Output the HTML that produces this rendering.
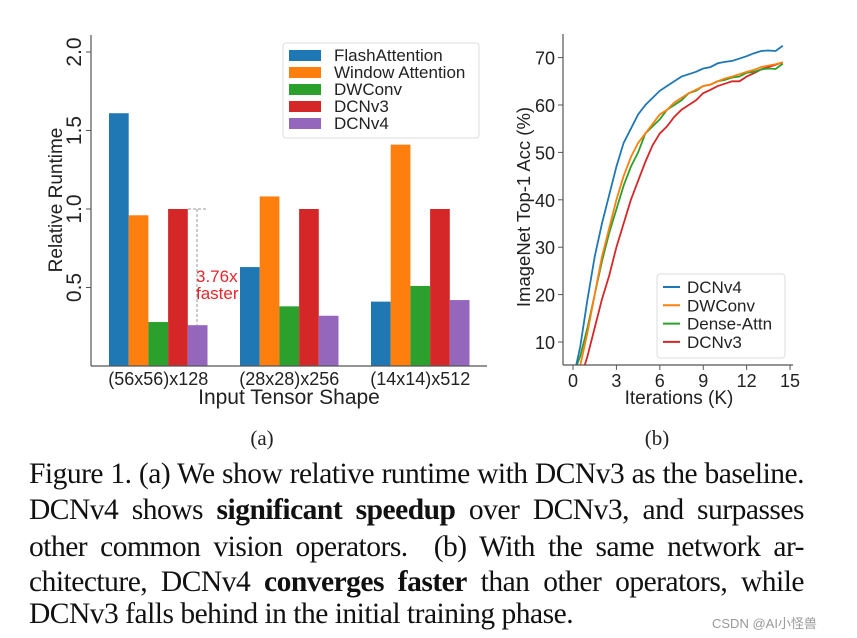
<!DOCTYPE html>
<html><head><meta charset="utf-8"><style>
body{margin:0;background:#fff;width:857px;height:638px;overflow:hidden;position:relative;font-family:"Liberation Sans","DejaVu Sans",sans-serif}
svg{position:absolute;left:0;top:0}
.cap{position:absolute;left:29px;width:775px;font-family:"Liberation Serif",serif;font-size:29.5px;color:#111;text-align:justify;text-align-last:justify;white-space:nowrap;line-height:30px;letter-spacing:-0.5px}
</style></head><body>
<svg id="chart" width="857" height="460"></svg>
<div class="cap" style="top:459px">Figure 1. (a) We show relative runtime with DCNv3 as the baseline.</div>
<div class="cap" style="top:495px">DCNv4 shows <b>significant speedup</b> over DCNv3, and surpasses</div>
<div class="cap" style="top:532px">other common vision operators.&nbsp; (b) With the same network ar-</div>
<div class="cap" style="top:567px">chitecture, DCNv4 <b>converges faster</b> than other operators, while</div>
<div class="cap" style="top:599px;width:auto;text-align-last:auto">DCNv3 falls behind in the initial training phase.</div>
<div style="position:absolute;left:712px;top:613px;font-size:13px;color:#999;font-family:'Liberation Sans','Noto Sans CJK SC',sans-serif">CSDN @AI小怪兽</div>
<script>
const categories=["(56x56)x128","(28x28)x256","(14x14)x512"];
const seriesNames=["FlashAttention","Window Attention","DWConv","DCNv3","DCNv4"];
const flashVals=[1.61,0.63,0.41];
const windowVals=[0.96,1.08,1.41];
const dwconvVals=[0.28,0.38,0.51];
const dcnv3Vals=[1.0,1.0,1.0];
const dcnv4Vals=[0.26,0.32,0.42];
const yTicksA=[0.5,1.0,1.5,2.0];
const lineNames=["DCNv4","DWConv","Dense-Attn","DCNv3"];
const itersK=[0,0.5,1,1.5,2,2.5,3,3.5,4,4.5,5,5.5,6,6.5,7,7.5,8,8.5,9,9.5,10,10.5,11,11.5,12,12.5,13,13.5,14,14.5];
const accDCNv4=[2,9,19,28,35,41,47,52,55,58,60,61.5,63,64,65,66,66.5,67,67.7,68,68.8,69.1,69.3,69.8,70.3,70.9,71.4,71.5,71.4,72.5];
const accDWConv=[0,5,12,20,28,34,40,45,49,52,54,56,58,59,60.5,61.5,62.5,63.2,64,64.3,65,65.6,66,66.5,67,67.4,68,68.3,68.6,69];
const accDense=[3,7,13,20,27,33,38,43,47,50,54,55.5,57,59,60,61,62.5,63,64,64.3,65,65.3,65.8,66,66.8,67,67.5,67.7,67.6,68.7];
const accDCNv3=[0,2,7,13,19,24,30,35,40,44,48,51.5,54,55.5,57.5,59,60,61,62.5,63.2,64,64.5,65,65,66,66.7,67.5,68,68.5,69];
const xTicksB=[0,3,6,9,12,15];
const yTicksB=[10,20,30,40,50,60,70];

const NS="http://www.w3.org/2000/svg";
const svg=document.getElementById('chart');
function mk(t,a,txt){const e=document.createElementNS(NS,t);for(const k in a)e.setAttribute(k,a[k]);if(txt!==undefined)e.textContent=txt;svg.appendChild(e);return e;}
const colors=["#1f77b4","#ff7f0e","#2ca02c","#d62728","#9467bd"];
// chart A
const yA=v=>366-157*v;
const gx=i=>109+131*i;const bw=19.7;
const allVals=[flashVals,windowVals,dwconvVals,dcnv3Vals,dcnv4Vals];
allVals.forEach((arr,s)=>arr.forEach((v,i)=>{
 const r=mk('rect',{x:gx(i)+s*bw,y:yA(v),width:bw,height:366-yA(v),fill:colors[s]});
 
 
}));
let e=mk('line',{x1:91,y1:35,x2:91,y2:366,stroke:'#555','stroke-width':1.2});
e=mk('line',{x1:91,y1:366,x2:487,y2:366,stroke:'#555','stroke-width':1.2});
yTicksA.forEach(t=>{const y=yA(t);mk('line',{x1:86,y1:y,x2:91,y2:y,stroke:'#555'});
 const tx=mk('text',{x:81,y:y,'font-size':21,'text-anchor':'middle',fill:'#222',transform:`rotate(-90 81 ${y})`},t.toFixed(1));
 });
categories.forEach((c,i)=>{const cx=gx(i)+2.5*bw;
 const t=mk('text',{x:cx,y:385,'font-size':18,'text-anchor':'middle',fill:'#222'},c);
 });
e=mk('text',{x:289,y:404,'font-size':21,'text-anchor':'middle',fill:'#222'},'Input Tensor Shape');
e=mk('text',{x:62,y:200,'font-size':19,'text-anchor':'middle',fill:'#222',transform:'rotate(-90 62 200)'},'Relative Runtime');
mk('line',{x1:188,y1:yA(1),x2:206,y2:yA(1),stroke:'#999','stroke-dasharray':'3,2'});
mk('line',{x1:197,y1:yA(1),x2:197,y2:yA(dcnv4Vals[0]),stroke:'#999','stroke-dasharray':'3,2'});
e=mk('text',{x:196,y:282,'font-size':17,fill:'#e8262b'},'3.76x');
mk('text',{x:196,y:299,'font-size':17,fill:'#e8262b'},'faster');
e=mk('rect',{x:283,y:43,width:196,height:95,rx:3,fill:'#fff',stroke:'#ddd'});
seriesNames.forEach((n,s)=>{const y=50+17*s;
 mk('rect',{x:289,y:y,width:32,height:11,fill:colors[s]});
 const t=mk('text',{x:334,y:y+11,'font-size':17,fill:'#222'},n);
 });
// chart B
const xB=v=>573+14.47*v, yB=v=>342-4.74*(v-10);
svg.insertAdjacentHTML('beforeend','<clipPath id="cb"><rect x="563" y="30" width="232" height="335"/></clipPath>');
const lineData=[accDCNv4,accDWConv,accDense,accDCNv3];const lc=["#1f77b4","#ff7f0e","#2ca02c","#d62728"];
[3,2,1,0].forEach(k=>{const p=mk('polyline',{points:itersK.map((x,i)=>xB(x)+','+yB(lineData[k][i])).join(' '),fill:'none',stroke:lc[k],'stroke-width':1.8,'clip-path':'url(#cb)'});
 });
e=mk('line',{x1:563,y1:34,x2:563,y2:365,stroke:'#555','stroke-width':1.2});
e=mk('line',{x1:563,y1:365,x2:793,y2:365,stroke:'#555','stroke-width':1.2});
xTicksB.forEach(t=>{const x=xB(t);mk('line',{x1:x,y1:365,x2:x,y2:370,stroke:'#555'});
 const tx=mk('text',{x:x,y:387,'font-size':18,'text-anchor':'middle',fill:'#222'},t);
 });
yTicksB.forEach(t=>{const y=yB(t);mk('line',{x1:558,y1:y,x2:563,y2:y,stroke:'#555'});
 const tx=mk('text',{x:555,y:y+7,'font-size':18,'text-anchor':'end',fill:'#222'},t);
 });
e=mk('text',{x:679,y:404,'font-size':19,'text-anchor':'middle',fill:'#222'},'Iterations (K)');
e=mk('text',{x:530,y:207,'font-size':18.5,'text-anchor':'middle',fill:'#222',transform:'rotate(-90 530 207)'},'ImageNet Top-1 Acc (%)');
e=mk('rect',{x:657,y:274,width:128,height:84,rx:3,fill:'#fff',stroke:'#ddd'});
lineNames.forEach((n,k)=>{const y=287+18.3*k;
 mk('line',{x1:663,y1:y,x2:680,y2:y,stroke:lc[k],'stroke-width':2});
 const t=mk('text',{x:687,y:y+6,'font-size':17,fill:'#222'},n);
 });
e=mk('text',{x:262,y:445,'font-size':21,'text-anchor':'middle','font-family':'Liberation Serif,serif',fill:'#222'},'(a)');
e=mk('text',{x:657,y:445,'font-size':21,'text-anchor':'middle','font-family':'Liberation Serif,serif',fill:'#222'},'(b)');
</script>
</body></html>
